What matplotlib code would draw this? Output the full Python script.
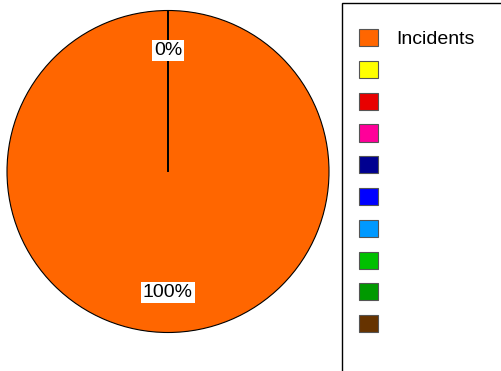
import matplotlib
matplotlib.use("Agg")
import matplotlib.pyplot as plt
from matplotlib.patches import Rectangle

plt.rcParams["font.family"] = ["Liberation Sans", "DejaVu Sans"]

# one series, ten legend slots (only the first has a name / a value)
labels = ["Incidents", "", "", "", "", "", "", "", "", ""]
values = [1, 0, 0, 0, 0, 0, 0, 0, 0, 0]
colors = ["#FF6600", "#FFFF00", "#E80000", "#FF0099", "#000090",
          "#0000FF", "#0099FF", "#00C000", "#009900", "#663300"]

W, H = 501, 371
fig = plt.figure(figsize=(W / 100, H / 100), dpi=100)

# pie centred at (168, 171.5) px, radius 161 px
cx, cy, r = 168, 171.5, 161
ax = fig.add_axes([(cx - r) / W, (H - cy - r) / H, 2 * r / W, 2 * r / H])
wedges, texts, autotexts = ax.pie(
    values, colors=colors, startangle=90, counterclock=False,
    autopct=lambda p: f"{p:.0f}%", pctdistance=0.75,
    wedgeprops=dict(edgecolor="black", linewidth=0.8),
    textprops=dict(fontsize=14, color="black"),
)
for t in autotexts:
    t.set_bbox(dict(facecolor="white", edgecolor="none", pad=1.5))
ax.set_xlim(-1, 1)
ax.set_ylim(-1, 1)
ax.set_aspect("auto")

# legend box runs off the bottom/right edge of the image
fig.add_artist(Rectangle((342 / W, -0.1), 0.5, 1.1 - 3 / H,
                         transform=fig.transFigure, facecolor="none",
                         edgecolor="black", linewidth=1.0))

leg = fig.legend(wedges, labels, loc="upper left",
                 bbox_to_anchor=(359 / W, 1 - 29 / H),
                 frameon=False, fontsize=14, borderpad=0, borderaxespad=0,
                 handlelength=0.98, handleheight=0.98, handletextpad=0.95,
                 labelspacing=0.645)
for h in leg.legend_handles:
    h.set_edgecolor("#555555")
    h.set_linewidth(0.8)

fig.savefig("out.png", dpi=100)
